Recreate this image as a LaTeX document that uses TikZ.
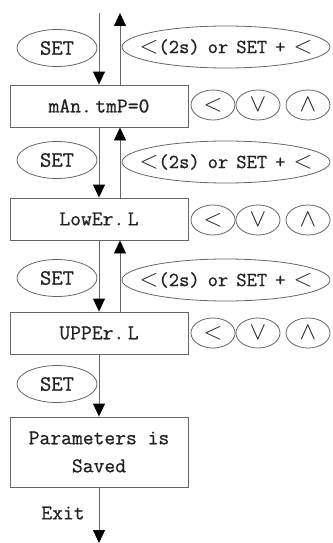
\documentclass[tikz,border=0pt]{standalone}
\usepackage{amsmath}
\usepackage{fontspec}
\setmonofont[FakeBold=0.8]{Latin Modern Mono}
\usetikzlibrary{shapes.geometric}
\usetikzlibrary{arrows.meta}
\usetikzlibrary{positioning}
\definecolor{linegray}{HTML}{666666}
\definecolor{inkgray}{HTML}{222222}
\tikzset{
	stepbox/.style={draw=linegray,line width=0.9pt,minimum width=178pt,minimum height=42pt,
		text=inkgray,align=center,font=\ttfamily\fontsize{21}{28}\selectfont},
	setkey/.style={ellipse,draw=linegray,line width=0.8pt,minimum width=80pt,minimum height=37pt,
		inner sep=0pt,text=inkgray,font=\ttfamily\fontsize{22}{23}\selectfont},
	combo/.style={ellipse,draw=linegray,line width=0.8pt,minimum width=208pt,minimum height=42pt,
		text width=180pt,align=center,inner xsep=-17pt,inner ysep=0pt,
		text=inkgray,font=\ttfamily\fontsize{20}{22}\selectfont},
	keybtn/.style={ellipse,draw=linegray,line width=0.8pt,minimum width=44pt,minimum height=30pt,
		inner sep=0pt,text=inkgray,font=\fontsize{30}{30}\selectfont},
	flow/.style={draw=linegray,line width=0.9pt,-{Triangle[length=13pt,width=12pt,color=black]}}
}
\newcommand{\lt}{{\fontsize{24}{24}\selectfont$<$}}
\newcommand{\gap}{\hspace{8pt}}

\begin{document}
\begin{tikzpicture}[x=1pt,y=-1pt]
	\useasboundingbox (0,0) rectangle (332,543);
	% menu steps
	\node [stepbox] (temp) at (99,106) {mAn.\,tmP=0};
	\node [stepbox] (lower) at (99,219) {LowEr.\,L};
	\node [stepbox] (upper) at (99,333) {UPPEr.\,L};
	\node [stepbox,minimum height=70pt] (saved) at (99,452) {Parameters is\\Saved};
	% keys between the steps
	\node [setkey] (set1) at (57,48) {SET};
	\node [setkey] (set2) at (57,160) {SET};
	\node [setkey] (set3) at (57,278) {SET};
	\node [setkey] (set4) at (57,384) {SET};
	\node [combo] (back1) at (226,47) {\lt(2s)\gap or\gap SET\gap +\gap\lt};
	\node [combo] (back2) at (226,162) {\lt(2s)\gap or\gap SET\gap +\gap\lt};
	\node [combo] (back3) at (226,280) {\lt(2s)\gap or\gap SET\gap +\gap\lt};
	\foreach \s/\y in {temp/105,lower/220,upper/333}{
		\node [keybtn] (\s-left) at (213,\y) {$<$};
		\node [keybtn] (\s-down) at (258,\y) {$\vee$};
		\node [keybtn] (\s-up) at (308,\y) {$\wedge$};
	}
	\node [text=inkgray,font=\ttfamily\fontsize{21}{23}\selectfont] (exitlabel) at (63,513) {Exit};
	% connectors
	\coordinate (in) at (99,13);
	\coordinate (back) at (120,13);
	\coordinate (out) at (99,543);
	\draw [flow] (in) -- (temp.north);
	\draw [flow] ([xshift=21pt]temp.north) -- (back);
	\draw [flow] (temp.south) -- (lower.north);
	\draw [flow] ([xshift=21pt]lower.north) -- ([xshift=21pt]temp.south);
	\draw [flow] (lower.south) -- (upper.north);
	\draw [flow] ([xshift=21pt]upper.north) -- ([xshift=21pt]lower.south);
	\draw [flow] (upper.south) -- (saved.north);
	\draw [flow] (saved.south) -- (out);
\end{tikzpicture}
\end{document}
